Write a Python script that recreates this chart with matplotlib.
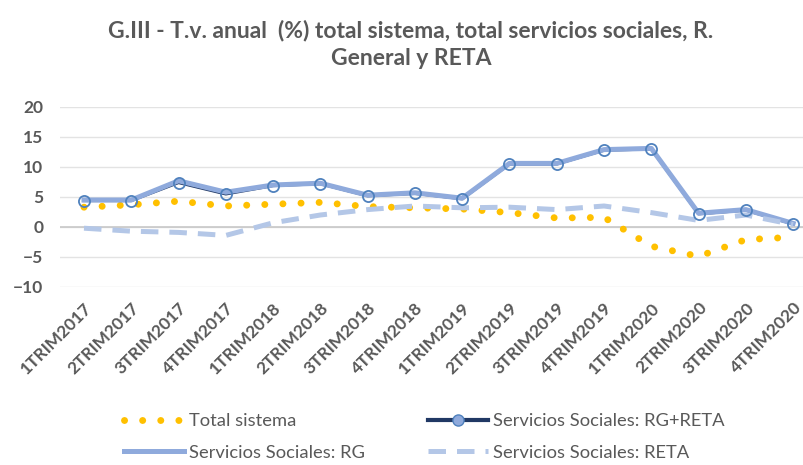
import numpy as np
import matplotlib
matplotlib.use('Agg')
import matplotlib.pyplot as plt
from matplotlib.lines import Line2D

plt.rcParams['font.family'] = ['Lato', 'DejaVu Sans']

trimestres = ['1TRIM2017', '2TRIM2017', '3TRIM2017', '4TRIM2017',
              '1TRIM2018', '2TRIM2018', '3TRIM2018', '4TRIM2018',
              '1TRIM2019', '2TRIM2019', '3TRIM2019', '4TRIM2019',
              '1TRIM2020', '2TRIM2020', '3TRIM2020', '4TRIM2020']
total_sistema = [3.3, 3.7, 4.3, 3.5, 3.8, 4.1, 3.4, 3.2,
                 3.0, 2.4, 1.5, 1.6, -3.2, -4.9, -2.1, -1.7]
ss_rg_reta = [4.4, 4.4, 7.4, 5.5, 6.9, 7.2, 5.2, 5.6,
              4.7, 10.5, 10.5, 12.8, 13.0, 2.2, 2.8, 0.5]
ss_rg = [4.5, 4.5, 7.7, 5.8, 7.0, 7.3, 5.3, 5.7,
         4.8, 10.6, 10.6, 12.9, 13.1, 2.3, 2.9, 0.6]
ss_reta = [-0.2, -0.7, -0.9, -1.4, 0.7, 2.0, 2.9, 3.5,
           3.2, 3.3, 2.9, 3.5, 2.4, 1.1, 2.0, 0.4]

gris = '#595959'
amarillo = '#FFC000'
punteado = (0, (0.01, 2.6))
rayado = (0, (3.5, 2.2))
x = np.arange(len(trimestres))

fig = plt.figure(figsize=(8.04, 4.65), dpi=100)
ax = fig.add_axes([0.0746, 0.3828, 0.9254, 0.3871])

ax.plot(x, total_sistema, color=amarillo, lw=5, linestyle=punteado,
        dash_capstyle='round', zorder=3)
ax.plot(x, ss_rg_reta, color='#203864', lw=2.2, zorder=4)
ax.plot(x, ss_rg, color='#8FAADC', lw=3.6, zorder=5)
ax.plot(x, ss_reta, color='#B4C7E7', lw=3.6, linestyle=rayado, zorder=6)
ax.plot(x, ss_rg_reta, linestyle='none', marker='o', ms=8, mfc='none',
        mec='#4F81BD', mew=1.3, zorder=7)

ax.set_xlim(-0.508, 15.23)
ax.set_ylim(-10, 20)
ax.set_yticks(range(-10, 21, 5))
ax.grid(axis='y', color='#e3e3e3', lw=1)
ax.axhline(0, color='#c8c8c8', lw=1.2, zorder=2)
for s in ax.spines.values():
    s.set_visible(False)
ax.tick_params(length=0)
ax.set_xticks(x)
ax.set_xticklabels(trimestres, rotation=45, ha='right', va='top',
                   rotation_mode='anchor', fontsize=12.5, fontweight='bold', color=gris)
ax.tick_params(axis='x', pad=9)
ax.tick_params(axis='y', pad=12)
for t in ax.get_yticklabels():
    t.set_fontsize(12.5)
    t.set_fontweight('bold')
    t.set_color(gris)

fig.text(0.511, 0.935, 'G.III - T.v. anual  (%) total sistema, total servicios sociales, R.',
         ha='center', va='center', fontsize=16.5, fontweight='bold', color=gris)
fig.text(0.511, 0.875, 'General y RETA', ha='center', va='center',
         fontsize=16.5, fontweight='bold', color=gris)

# orden por columnas: col 1 = Total, RG ; col 2 = RG+RETA, RETA
handles = [
    Line2D([], [], color=amarillo, lw=5, linestyle=punteado, dash_capstyle='round'),
    Line2D([], [], color='#8FAADC', lw=3.6),
    Line2D([], [], color='#203864', lw=3, marker='o', ms=8, mfc='#8FAADC', mec='#4F81BD'),
    Line2D([], [], color='#B4C7E7', lw=3.6, linestyle=rayado),
]
labels = ['Total sistema', 'Servicios Sociales: RG',
          'Servicios Sociales: RG+RETA', 'Servicios Sociales: RETA']
leg = fig.legend(handles, labels, ncol=2, loc='upper left',
                 bbox_to_anchor=(124 / 804, 1 - 413 / 465),
                 frameon=False, fontsize=13.2, handlelength=3.3, columnspacing=3.4,
                 labelspacing=0.85, handletextpad=0.27, borderpad=0, borderaxespad=0)
for t in leg.get_texts():
    t.set_color(gris)

fig.savefig('out.png', dpi=100)
